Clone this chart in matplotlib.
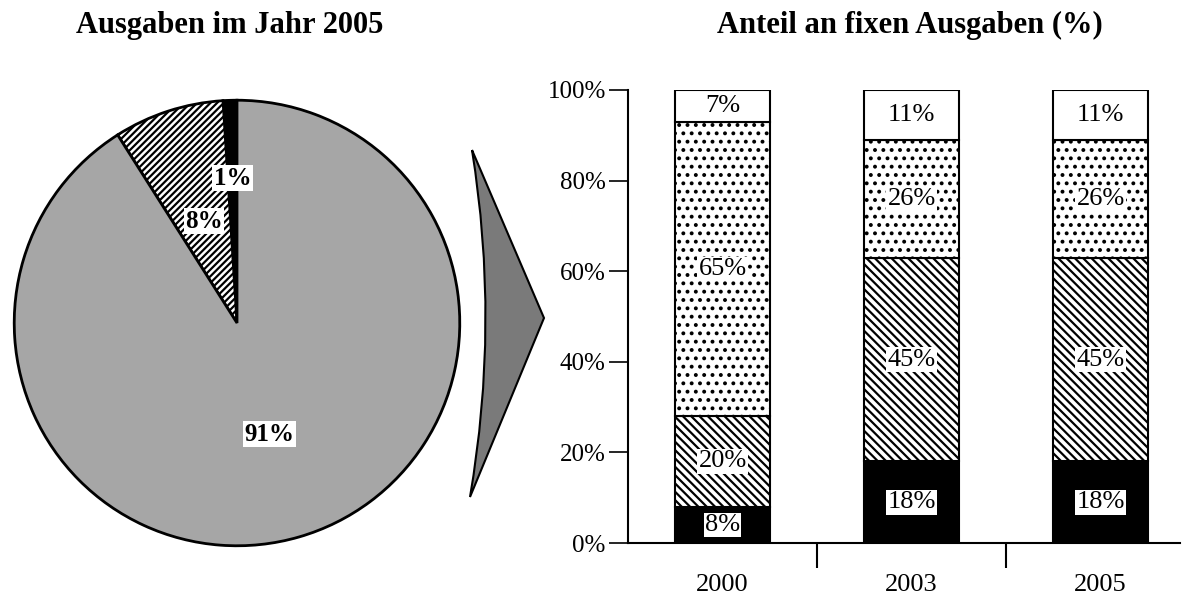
import numpy as np
import matplotlib.pyplot as plt
from matplotlib.path import Path
from matplotlib.patches import PathPatch

plt.rcParams['font.family'] = ['Liberation Serif', 'DejaVu Serif']
plt.rcParams['hatch.linewidth'] = 1.6

# pie data (2005)
pie_vals = [1, 8, 91]
pie_labels = ['1%', '8%', '91%']

# stacked bars
years = ['2000', '2003', '2005']
seg_black = [8, 18, 18]
seg_hatch = [20, 45, 45]
seg_dots = [65, 26, 26]
seg_white = [7, 11, 11]

W, H = 1191, 595
fig = plt.figure(figsize=(W / 100, H / 100), dpi=100)

def box(x0, y0, x1, y1):
    # pixel box (top-left origin) -> figure fraction rect
    return [x0 / W, (H - y1) / H, (x1 - x0) / W, (y1 - y0) / H]

# ---- pie ----
axp = fig.add_axes(box(12, 98, 462, 548))
wedges, _ = axp.pie(pie_vals, startangle=90, counterclock=True,
                    colors=['black', 'white', '#a6a6a6'],
                    wedgeprops=dict(edgecolor='black', linewidth=2))
wedges[1].set_hatch('/////')
axp.set_xlim(-1.01, 1.01)
axp.set_ylim(-1.01, 1.01)
axp.set_aspect('auto')
label_r = [0.65, 0.48, 0.52]
for w, lab, r in zip(wedges, pie_labels, label_r):
    ang = np.deg2rad((w.theta1 + w.theta2) / 2)
    axp.text(r * np.cos(ang), r * np.sin(ang), lab, ha='center', va='center',
             fontsize=18, fontweight='bold',
             bbox=dict(facecolor='white', edgecolor='none', pad=1))
fig.text(230 / W, 1 - 25 / H, 'Ausgaben im Jahr 2005', ha='center', va='center',
         fontsize=22, fontweight='bold')

# ---- arrow ----
def px(x, y):
    return (x / W, (H - y) / H)

verts = [px(472, 150), px(544, 318), px(470, 497), px(500, 323), px(472, 150)]
codes = [Path.MOVETO, Path.LINETO, Path.LINETO, Path.CURVE3, Path.CURVE3]
fig.patches.append(PathPatch(Path(verts, codes), facecolor='#7a7a7a',
                             edgecolor='black', linewidth=1.5,
                             transform=fig.transFigure, figure=fig))

# ---- stacked bars ----
axb = fig.add_axes(box(628, 90, 1180, 543))
x = np.arange(len(years))
bw = 0.5
layers = [
    (seg_black, dict(color='black')),
    (seg_hatch, dict(color='white', hatch='\\\\\\\\')),
    (seg_dots, dict(color='white', hatch='..')),
    (seg_white, dict(color='white')),
]
bottom = np.zeros(len(years))
for vals, style in layers:
    vals = np.array(vals, dtype=float)
    axb.bar(x, vals, bw, bottom=bottom, edgecolor='black', linewidth=1.5, **style)
    for xi, b, v in zip(x, bottom, vals):
        axb.text(xi, b + v / 2, f'{int(v)}%', ha='center', va='center', fontsize=19,
                 bbox=dict(facecolor='white', edgecolor='none', pad=1))
    bottom += vals

axb.set_xlim(-0.5, 2.42)
axb.set_ylim(0, 100)
axb.set_yticks(range(0, 101, 20))
axb.set_yticklabels([f'{v}%' for v in range(0, 101, 20)])
axb.set_xticks(x)
axb.set_xticklabels(years)
axb.tick_params(axis='x', which='major', length=0, pad=22, labelsize=19)
axb.set_xticks([0.5, 1.5], minor=True)
axb.tick_params(axis='x', which='minor', length=18, width=1.5, direction='out')
axb.tick_params(axis='y', length=14, width=1.2, direction='out', pad=2, labelsize=18)
for s in ['top', 'right']:
    axb.spines[s].set_visible(False)
axb.spines['left'].set_linewidth(1.5)
axb.spines['bottom'].set_linewidth(1.5)
fig.text(910 / W, 1 - 25 / H, 'Anteil an fixen Ausgaben (%)', ha='center', va='center',
         fontsize=22, fontweight='bold')

fig.savefig('out.png', dpi=100)
